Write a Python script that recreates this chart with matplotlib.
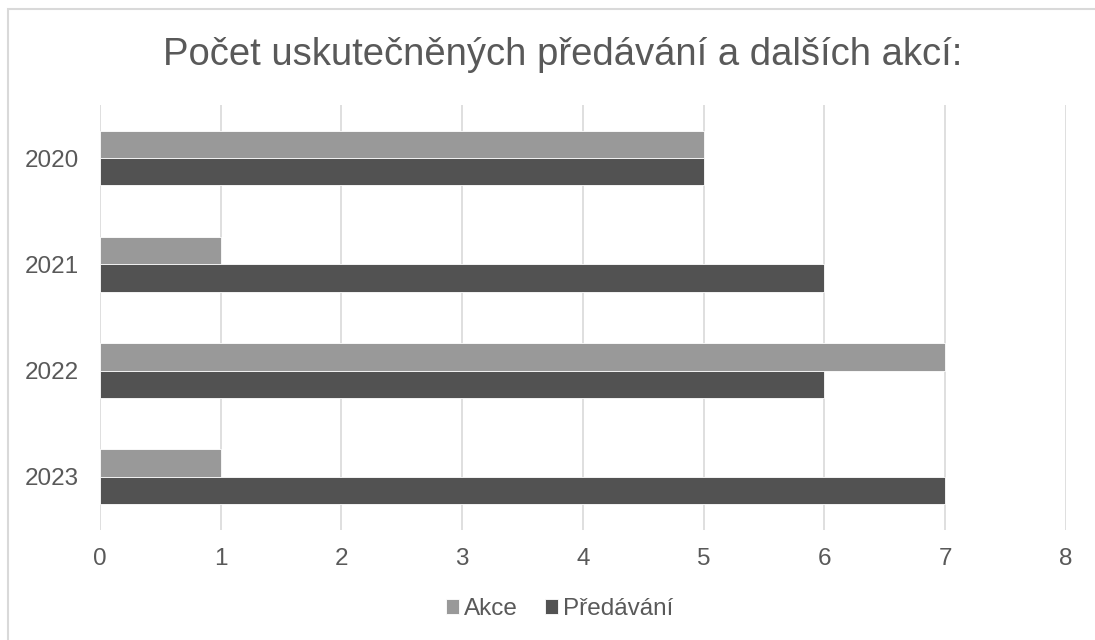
import matplotlib
matplotlib.use("Agg")
import matplotlib.pyplot as plt
from matplotlib.patches import Rectangle
import numpy as np

plt.rcParams['font.family'] = ['Liberation Sans', 'DejaVu Sans']

roky = ["2020", "2021", "2022", "2023"]
akce = [5, 1, 7, 1]
predavani = [5, 6, 6, 7]

barva_akce = "#999999"
barva_pred = "#525252"
barva_textu = "#595959"

fig = plt.figure(figsize=(10.95, 6.4), dpi=100)
ax = fig.add_axes([0.0913, 0.172, 0.8822, 0.664])

y = np.arange(len(roky))
h = 0.258
ax.barh(y - h / 2, akce, height=h, color=barva_akce, edgecolor="white", linewidth=0.6,
        label="Akce", zorder=3)
ax.barh(y + h / 2, predavani, height=h, color=barva_pred, edgecolor="white", linewidth=0.6,
        label="Předávání", zorder=3)

ax.set_xlim(0, 8)
ax.set_ylim(len(roky) - 0.5, -0.5)
ax.set_xticks(range(0, 9))
ax.set_yticks(y)
ax.set_yticklabels(roky)
ax.tick_params(axis="both", length=0, labelsize=17.5, colors=barva_textu)
ax.tick_params(axis="x", pad=13)
ax.tick_params(axis="y", pad=15)
ax.grid(axis="x", color="#d9d9d9", linewidth=1.2, zorder=0)
for s in ax.spines.values():
    s.set_visible(False)

fig.text(0.514, 0.914, "Počet uskutečněných předávání a dalších akcí:", ha="center", va="center",
         fontsize=27.5, color=barva_textu)

leg = fig.legend(loc="center", bbox_to_anchor=(0.511, 0.048), ncol=2, frameon=False,
                 fontsize=17.5, handlelength=0.55, handleheight=0.55, handletextpad=0.2,
                 columnspacing=1.1)
for t in leg.get_texts():
    t.set_color(barva_textu)

# okraj grafu
fig.patches.append(Rectangle((8 / 1095, -0.05), 1.2, 1 - 9 / 640 + 0.05, transform=fig.transFigure,
                             fill=False, edgecolor="#d9d9d9", linewidth=1.5))

fig.savefig("out.png", dpi=100)
